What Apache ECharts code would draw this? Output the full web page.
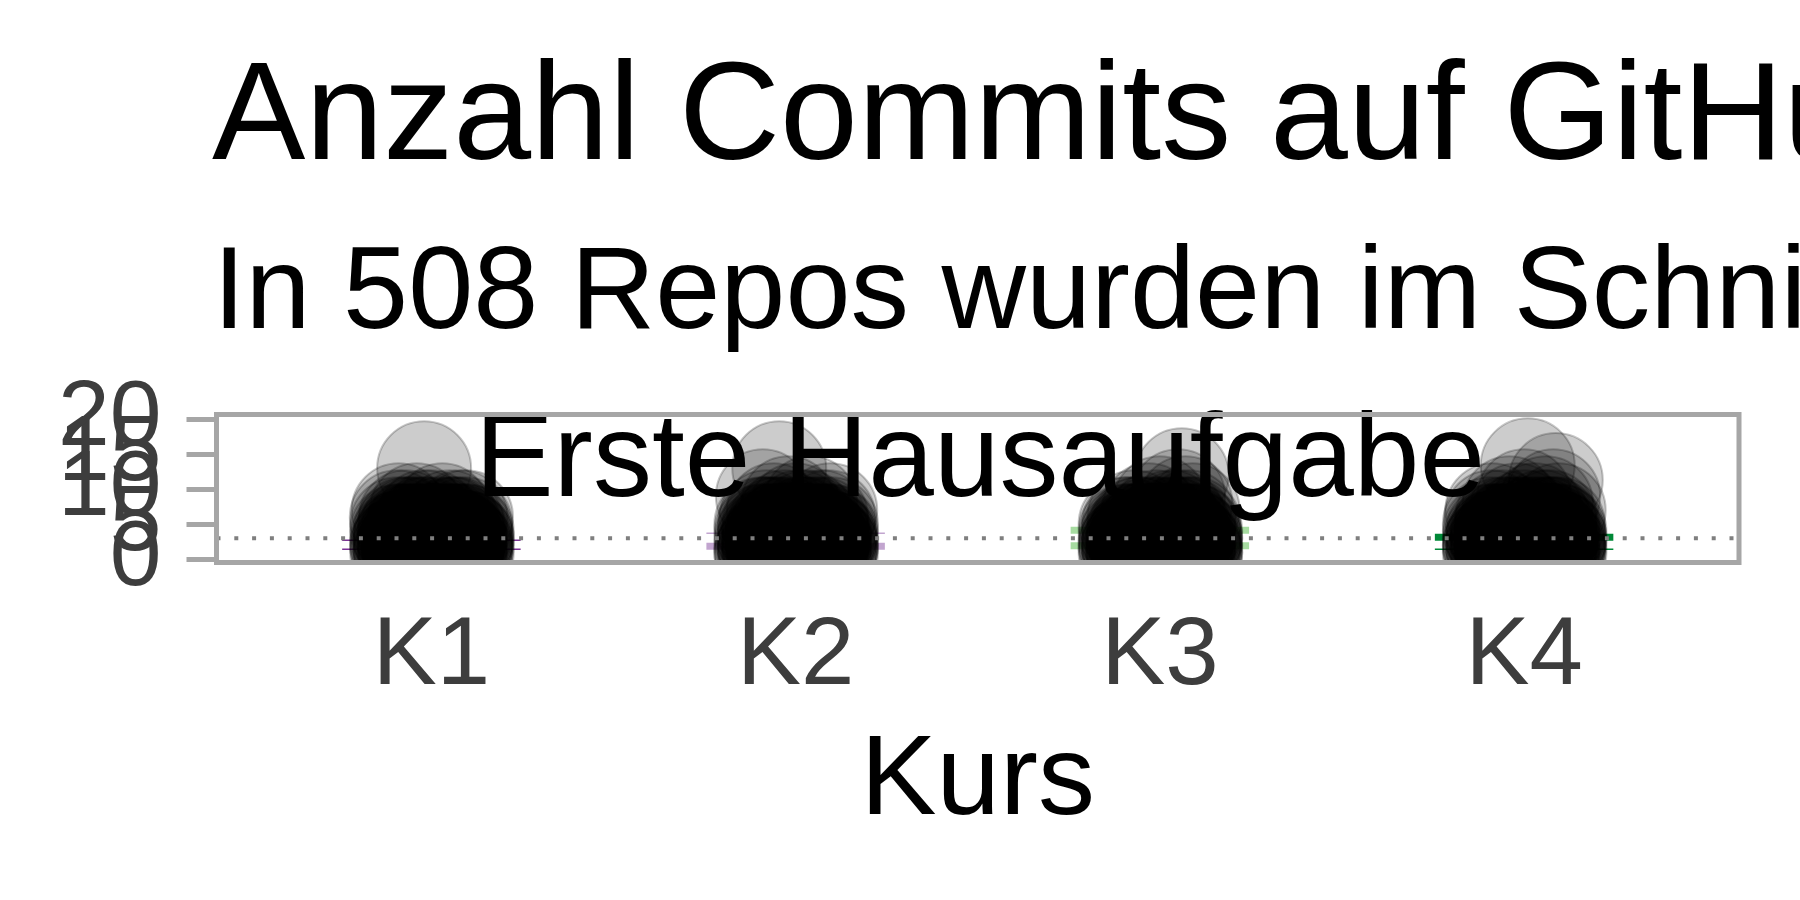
<!DOCTYPE html>
<html>
<head>
<meta charset="utf-8">
<script src="https://cdn.jsdelivr.net/npm/echarts@6/dist/echarts.min.js"></script>
<style>
  html, body { margin: 0; padding: 0; background: #ffffff; }
  #chart { width: 1800px; height: 900px; }
</style>
</head>
<body>
<div id="chart"></div>
<script>
// ---------- data ----------
const courses = ['K1', 'K2', 'K3', 'K4'];
const yTickValues = [0, 5, 10, 15, 20];
const meanCommits = 3.0;

// repos with few commits: commit levels and how many repos per level
const lowCommitLevels = [1, 2, 3, 4, 5];
const lowCountsK1 = [25, 32, 28, 20, 11];
const lowCountsK2 = [24, 30, 28, 20, 12];
const lowCountsK3 = [25, 31, 28, 20, 12];
const lowCountsK4 = [24, 30, 26, 20, 12];

// repos with more commits (read individually), with their horizontal jitter
const highValuesK1 = [13, 7, 7, 7, 6, 6, 6, 6, 6, 6, 6];
const highJitterK1 = [-0.02, -0.09, 0.03, -0.04, 0.08, -0.07, 0.0, 0.05, -0.02, 0.095, -0.095];
const highValuesK2 = [13, 9, 8, 8, 7, 7, 7, 6, 6, 6, 6, 6, 6];
const highJitterK2 = [-0.045, -0.09, -0.02, 0.04, 0.095, 0.0, -0.06, 0.07, -0.03, 0.03, -0.08, 0.09, 0.01];
const highValuesK3 = [12, 9, 8, 8, 7, 7, 6, 6, 6, 6, 6];
const highJitterK3 = [0.06, 0.05, 0.0, 0.07, -0.03, 0.09, -0.07, 0.03, -0.01, 0.05, 0.08];
const highValuesK4 = [13.4, 11.3, 9, 9, 8, 8, 7, 7, 7, 7, 6, 6, 6, 6, 6];
const highJitterK4 = [0.01, 0.087, 0.08, 0.0, 0.06, -0.04, -0.087, 0.03, 0.095, -0.02, -0.06, 0.05, 0.0, -0.09, 0.07];

// typed horizontal jitter offsets used in turn for the dense low points
const jitterPattern = [-0.085, 0.042, -0.031, 0.078, 0.005, -0.062, 0.093, -0.012, 0.061, -0.094,
                       0.021, -0.047, 0.071, -0.024, 0.052, -0.073, 0.013, 0.097, -0.056, 0.034];

// summary lines per course
const upperLine = [2.71, 3.71, 4.14, 3.14];
const lowerLine = [1.43, 1.86, 1.93, 1.43];

// ---------- build ----------
const FONT = '"Liberation Sans", Arial, Helvetica, sans-serif';
const X_MIN = 0.41, X_MAX = 4.59;
const Y_MIN = -0.45, Y_MAX = 20.65;
const courseColors = ['#7b3294', '#c2a5cf', '#a6dba0', '#008837'];
const upperWidth = [1.5, 1.5, 7, 7];
const lowerWidth = [1.5, 7, 7, 1.5];

function buildPoints(ci, lowCounts, highVals, highJit) {
  const pts = [];
  let k = ci * 7;
  lowCommitLevels.forEach((lv, j) => {
    for (let n = 0; n < lowCounts[j]; n++) {
      pts.push([ci + 1 + jitterPattern[k % jitterPattern.length], lv]);
      k++;
    }
  });
  highVals.forEach((v, j) => pts.push([ci + 1 + highJit[j], v]));
  return pts;
}
const points = [].concat(
  buildPoints(0, lowCountsK1, highValuesK1, highJitterK1),
  buildPoints(1, lowCountsK2, highValuesK2, highJitterK2),
  buildPoints(2, lowCountsK3, highValuesK3, highJitterK3),
  buildPoints(3, lowCountsK4, highValuesK4, highJitterK4)
);

const lineData = [];
courses.forEach((c, i) => {
  lineData.push([i + 1, upperLine[i], i, upperWidth[i]]);
  lineData.push([i + 1, lowerLine[i], i, lowerWidth[i]]);
});

// The tick labels overlap heavily (as in the original); one twin axis per tick
// keeps ECharts from thinning any of them out.
function makeYAxis(val) {
  return {
    type: 'value', min: Y_MIN, max: Y_MAX, position: 'left', offset: 0,
    axisLine: { show: false }, splitLine: { show: false },
    axisTick: { show: true, interval: 0, customValues: [val], length: 30,
                lineStyle: { color: '#a6a6a6', width: 5 } },
    axisLabel: {
      customValues: [val], interval: 0, fontFamily: FONT, fontSize: 93, color: '#3d3d3d', margin: 55,
      hideOverlap: false, showMinLabel: true, showMaxLabel: true
    }
  };
}

const chart = echarts.init(document.getElementById('chart'), null, { renderer: 'canvas' });
chart.setOption({
  backgroundColor: '#ffffff',
  animation: false,
  title: [
    { text: 'Anzahl Commits auf GitHub', left: 212, top: 50, padding: 0,
      textStyle: { fontFamily: FONT, fontSize: 140, fontWeight: 'normal', color: '#000000' } },
    { text: 'In 508 Repos wurden im Schnitt 3 Commits gemacht', left: 213, top: 237, padding: 0,
      textStyle: { fontFamily: FONT, fontSize: 117, fontWeight: 'normal', color: '#000000' } },
    { text: 'Erste Hausaufgabe', left: 980, top: 404, padding: 0, textAlign: 'center',
      textStyle: { fontFamily: FONT, fontSize: 118, fontWeight: 'normal', color: '#000000' } }
  ],
  grid: {
    left: 216.5, right: 61, top: 414.5, bottom: 337.5,
    show: true, borderColor: '#a6a6a6', borderWidth: 5, backgroundColor: 'transparent', z: 10
  },
  xAxis: {
    type: 'value', min: X_MIN, max: X_MAX,
    name: 'Kurs', nameLocation: 'middle', nameGap: 163,
    nameTextStyle: { fontFamily: FONT, fontSize: 114, color: '#000000', verticalAlign: 'top' },
    axisLine: { show: false }, axisTick: { show: false }, splitLine: { show: false },
    axisLabel: {
      customValues: [1, 2, 3, 4], interval: 0,
      formatter: v => courses[Math.round(v) - 1],
      fontFamily: FONT, fontSize: 96, color: '#3d3d3d', margin: 47,
      hideOverlap: false, showMinLabel: true, showMaxLabel: true
    }
  },
  yAxis: yTickValues.map(makeYAxis),
  series: [
    {
      type: 'line', symbol: 'none', silent: true, yAxisIndex: 0,
      data: [[X_MIN, meanCommits], [X_MAX, meanCommits]],
      lineStyle: { color: '#7f7f7f', width: 4, type: [4, 13.8], cap: 'butt' }
    },
    {
      type: 'custom', clip: true, silent: true, yAxisIndex: 0,
      data: lineData,
      renderItem: function (params, api) {
        const x = api.value(0), v = api.value(1);
        const ci = api.value(2), w = api.value(3);
        const a = api.coord([x - 0.245, v]);
        const b = api.coord([x + 0.245, v]);
        return { type: 'line', shape: { x1: a[0], y1: a[1], x2: b[0], y2: b[1] },
                 style: { stroke: courseColors[ci], lineWidth: w } };
      }
    },
    {
      type: 'custom', clip: true, silent: true, yAxisIndex: 0,
      data: points,
      renderItem: function (params, api) {
        const p = api.coord([api.value(0), api.value(1)]);
        return { type: 'circle', shape: { cx: p[0], cy: p[1], r: 47 },
                 style: { fill: 'rgba(0,0,0,0.2)', stroke: 'rgba(0,0,0,0.22)', lineWidth: 2 } };
      }
    }
  ]
});
</script>
</body>
</html>
